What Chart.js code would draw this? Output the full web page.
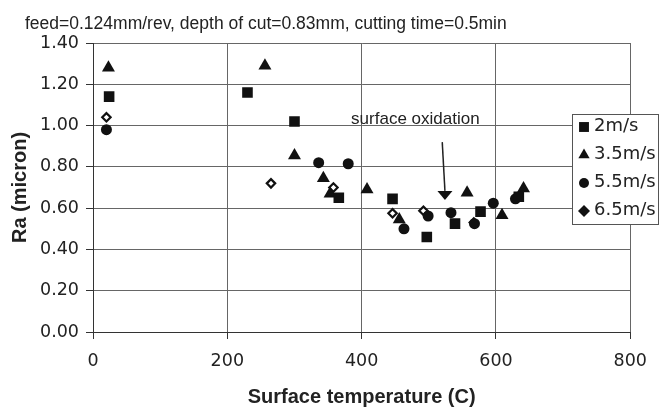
<!DOCTYPE html>
<html>
<head>
<meta charset="utf-8">
<script src="https://cdn.jsdelivr.net/npm/chart.js@4.4.0/dist/chart.umd.min.js"></script>
<style>
  html, body { margin: 0; padding: 0; background: #fff; }
  #wrap { width: 659px; height: 409px; }
</style>
</head>
<body>
<div id="wrap"><canvas id="chart" width="659" height="409"></canvas></div>
<script>
// Ra vs surface temperature
const TITLE = 'feed=0.124mm/rev, depth of cut=0.83mm, cutting time=0.5min';
const SERIES_NAMES = ['2m/s', '3.5m/s', '5.5m/s', '6.5m/s'];

const temp2 = [24, 230, 300, 366, 446, 497, 539, 577, 634];
const ra2 = [1.14, 1.16, 1.02, 0.65, 0.645, 0.46, 0.525, 0.583, 0.655];

const temp35 = [23, 256, 300, 343, 353, 408, 456, 557, 609, 641];
const ra35 = [1.28, 1.29, 0.855, 0.745, 0.67, 0.69, 0.545, 0.675, 0.565, 0.695];

const temp55 = [20, 336, 380, 463, 499, 533, 568, 596, 629];
const ra55 = [0.98, 0.82, 0.815, 0.50, 0.562, 0.578, 0.525, 0.624, 0.645];

const temp65 = [20, 265, 358, 446, 492, 567];
const ra65 = [1.04, 0.72, 0.70, 0.575, 0.587, 0.53];

const X_TICKS = [0, 200, 400, 600, 800];
const Y_TICKS = [0, 0.2, 0.4, 0.6, 0.8, 1.0, 1.2, 1.4];

// annotation: label position and arrow (start, tip) in data units
const NOTE_TEXT = 'surface oxidation';
const NOTE_AT = [480, 1.03];
const ARROW_FROM = [520, 0.92];
const ARROW_TO = [524, 0.64];

function pairs(xs, ys) {
  return xs.map((x, i) => ({ x: x, y: ys[i] }));
}

const datasets = [
  { label: SERIES_NAMES[0], data: pairs(temp2, ra2), pointStyle: 'rect', pointRadius: 7.5,
    backgroundColor: '#111', borderColor: '#111', borderWidth: 0 },
  { label: SERIES_NAMES[1], data: pairs(temp35, ra35), pointStyle: 'triangle', pointRadius: 7.5,
    backgroundColor: '#111', borderColor: '#111', borderWidth: 0 },
  { label: SERIES_NAMES[2], data: pairs(temp55, ra55), pointStyle: 'circle', pointRadius: 5.5,
    backgroundColor: '#111', borderColor: '#111', borderWidth: 0 },
  { label: SERIES_NAMES[3], data: pairs(temp65, ra65), pointStyle: 'rectRot', pointRadius: 4.2,
    backgroundColor: '#fff', borderColor: '#111', borderWidth: 2.2 }
];

// title, note + arrow, and the boxed legend sitting over the plot
const decorations = {
  id: 'decorations',
  afterDraw(chart) {
    const ctx = chart.ctx;
    const xs = chart.scales.x, ys = chart.scales.y;
    ctx.save();

    ctx.fillStyle = '#222';
    ctx.font = '17.5px "Liberation Sans", Arial, sans-serif';
    ctx.textAlign = 'left';
    ctx.textBaseline = 'alphabetic';
    ctx.fillText(TITLE, 25, 29);

    ctx.font = '17px "Liberation Sans", Arial, sans-serif';
    ctx.textAlign = 'center';
    ctx.textBaseline = 'middle';
    ctx.fillText(NOTE_TEXT, xs.getPixelForValue(NOTE_AT[0]), ys.getPixelForValue(NOTE_AT[1]));

    const ax = xs.getPixelForValue(ARROW_FROM[0]), ay = ys.getPixelForValue(ARROW_FROM[1]);
    const bx = xs.getPixelForValue(ARROW_TO[0]), by = ys.getPixelForValue(ARROW_TO[1]);
    ctx.strokeStyle = '#222';
    ctx.lineWidth = 1.5;
    ctx.beginPath();
    ctx.moveTo(ax, ay);
    ctx.lineTo(bx, by - 9);
    ctx.stroke();
    ctx.fillStyle = '#111';
    ctx.beginPath();
    ctx.moveTo(bx, by);
    ctx.lineTo(bx - 7.5, by - 9);
    ctx.lineTo(bx + 7.5, by - 9);
    ctx.closePath();
    ctx.fill();

    // legend box
    const lx = 572, ly = 114, lw = 86, lh = 110;
    ctx.fillStyle = '#fff';
    ctx.fillRect(lx, ly, lw, lh);
    ctx.strokeStyle = '#555';
    ctx.lineWidth = 1;
    ctx.strokeRect(lx + 0.5, ly + 0.5, lw, lh);
    const sizes = { rect: 7, triangle: 6.5, circle: 5, rectRot: 6 };
    chart.data.datasets.forEach((ds, i) => {
      const y = 126 + i * 28;
      ctx.fillStyle = '#111';
      ctx.strokeStyle = '#111';
      Chart.helpers.drawPoint(ctx, { pointStyle: ds.pointStyle, radius: sizes[ds.pointStyle], rotation: 0, borderWidth: 0 }, 584, y + 1);
      ctx.fillStyle = '#222';
      ctx.font = '18px "DejaVu Sans", sans-serif';
      ctx.textAlign = 'left';
      ctx.textBaseline = 'middle';
      ctx.fillText(ds.label, 594, y);
    });
    ctx.restore();
  }
};

const tickFont = { family: 'DejaVu Sans', size: 17.5 };
const titleFont = { family: 'Liberation Sans', size: 20, weight: 'bold' };

new Chart(document.getElementById('chart'), {
  type: 'scatter',
  data: { datasets: datasets },
  options: {
    responsive: false,
    animation: false,
    layout: { padding: { top: 43, right: 26, left: 0, bottom: 0 } },
    plugins: {
      legend: { display: false },
      tooltip: { enabled: false },
      title: { display: false }
    },
    scales: {
      x: {
        type: 'linear', min: 0, max: 800,
        afterBuildTicks: s => { s.ticks = X_TICKS.map(v => ({ value: v })); },
        ticks: { color: '#222', font: tickFont, padding: 12 },
        grid: { color: '#666', tickLength: 7, tickColor: '#333' },
        border: { color: '#333' },
        title: { display: true, text: 'Surface temperature (C)', color: '#222', font: titleFont, padding: { top: 0, bottom: 0 } },
        afterFit: s => { s.height = 77; }
      },
      y: {
        type: 'linear', min: 0, max: 1.4,
        afterBuildTicks: s => { s.ticks = Y_TICKS.map(v => ({ value: v })); },
        ticks: { color: '#222', font: tickFont, padding: 7, callback: v => Number(v).toFixed(2) },
        grid: { color: '#666', tickLength: 7, tickColor: '#333' },
        border: { color: '#333' },
        title: { display: true, text: 'Ra (micron)', color: '#222', font: titleFont, padding: { top: 8, bottom: 0 } },
        afterFit: s => { s.width = 93; }
      }
    }
  },
  plugins: [decorations]
});
</script>
</body>
</html>
